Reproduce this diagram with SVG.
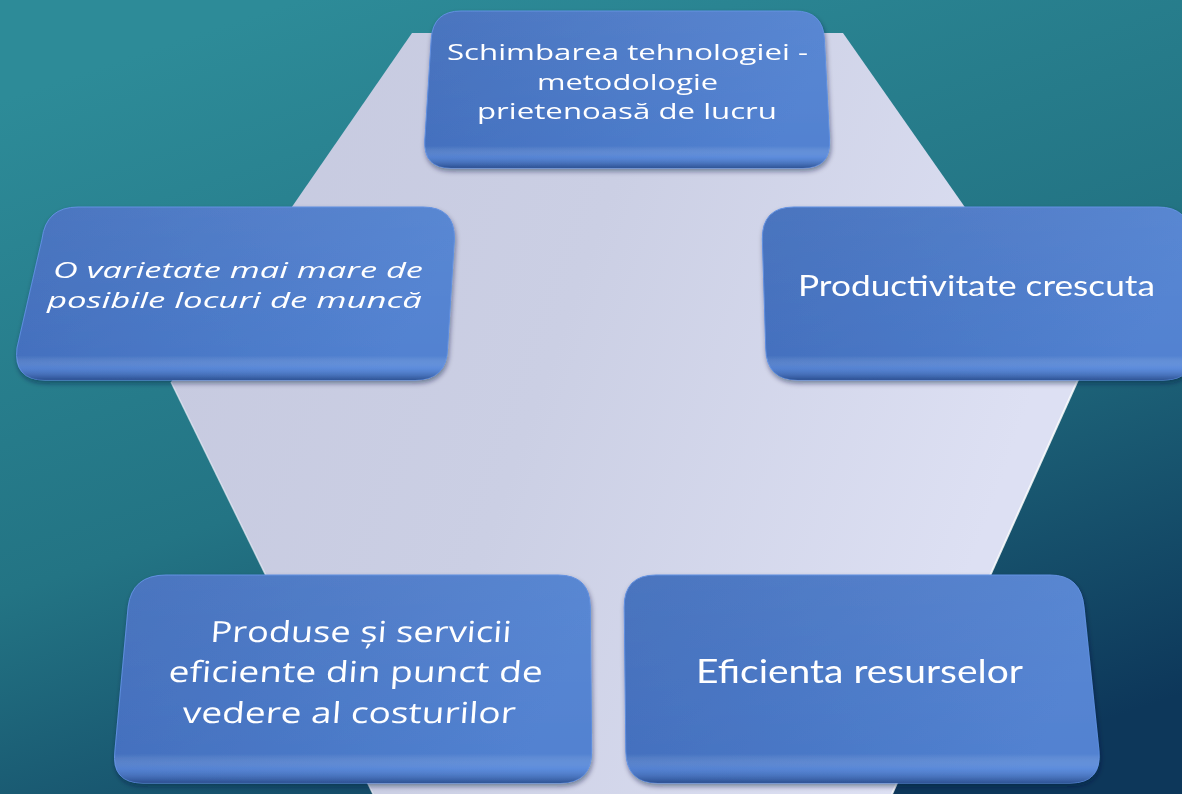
<svg xmlns="http://www.w3.org/2000/svg" width="1182" height="794" viewBox="0 0 1182 794">
<defs>
<linearGradient id="bg" x1="0.25" y1="0" x2="0.75" y2="1">
<stop offset="0" stop-color="#2d8b98"/>
<stop offset="0.5" stop-color="#237484"/>
<stop offset="1" stop-color="#0d375a"/>
</linearGradient>
<linearGradient id="hexg" x1="0" y1="0" x2="1" y2="0.3">
<stop offset="0" stop-color="#c6c9df"/>
<stop offset="0.5" stop-color="#cbcfe4"/>
<stop offset="1" stop-color="#dde0f3"/>
</linearGradient>
<linearGradient id="face" x1="0" y1="0" x2="1" y2="0.2">
<stop offset="0" stop-color="#416dbb"/>
<stop offset="1" stop-color="#5282d1"/>
</linearGradient>
<linearGradient id="bevel" x1="0" y1="0" x2="0" y2="1">
<stop offset="0" stop-color="#ffffff" stop-opacity="0.05"/>
<stop offset="0.86" stop-color="#ffffff" stop-opacity="0"/>
<stop offset="0.93" stop-color="#6f9ef0" stop-opacity="0.35"/>
<stop offset="1" stop-color="#1f3f7a" stop-opacity="0.7"/>
</linearGradient>
<filter id="sh" x="-10%" y="-10%" width="120%" height="130%">
<feDropShadow dx="1" dy="3" stdDeviation="2.5" flood-color="#0a1f3d" flood-opacity="0.45"/>
</filter>
</defs>
<style>
.face{fill:url(#face);stroke:#5d8de0;stroke-width:1}
.bev{fill:url(#bevel)}
.t{fill:#ffffff;font-family:"Open Sans","Noto Sans","Liberation Sans",sans-serif}
.c{fill:#ffffff;font-family:Lato,"Open Sans","Liberation Sans",sans-serif}
</style>
<rect x="0" y="0" width="1182" height="794" fill="url(#bg)"/>
<g id="hexagon">
<polygon points="412,33 843,33 1081,373 892,794 373,794 171,382" fill="url(#hexg)"/>
<polyline points="1081,373 892,794" fill="none" stroke="#ffffff" stroke-width="2" stroke-opacity="0.85"/>
<polyline points="171,382 373,794" fill="none" stroke="#eef0fa" stroke-width="1.5" stroke-opacity="0.7"/>
</g>
<g id="connectors"></g>
<g id="node-top" filter="url(#sh)">
<path class="face" d="M461,11 L795,11 Q823,11 824.4,39 L829.6,140 Q831,168 803,168 L451,168 Q423,168 424.8,140 L431.2,39 Q433,11 461,11 Z"/>
<path class="bev" d="M461,11 L795,11 Q823,11 824.4,39 L829.6,140 Q831,168 803,168 L451,168 Q423,168 424.8,140 L431.2,39 Q433,11 461,11 Z"/>
<text class="t" font-size="22" x="447" y="60" textLength="361" lengthAdjust="spacingAndGlyphs">Schimbarea tehnologiei -</text>
<text class="t" font-size="22" x="537" y="90" textLength="181" lengthAdjust="spacingAndGlyphs">metodologie</text>
<text class="t" font-size="22" x="477" y="119" textLength="300" lengthAdjust="spacingAndGlyphs">prietenoasă de lucru</text>
</g>
<g id="node-left" filter="url(#sh)">
<path class="face" d="M78,207 L423,207 Q455,207 454.4,239 L447.6,348 Q447,380 415,380 L45,380 Q13,380 17,348 L42,239 Q46,207 78,207 Z"/>
<path class="bev" d="M78,207 L423,207 Q455,207 454.4,239 L447.6,348 Q447,380 415,380 L45,380 Q13,380 17,348 L42,239 Q46,207 78,207 Z"/>
<text class="t" font-size="22" font-style="italic" x="53" y="278" textLength="370" lengthAdjust="spacingAndGlyphs">O varietate mai mare de</text>
<text class="t" font-size="22" font-style="italic" x="47" y="308" textLength="375" lengthAdjust="spacingAndGlyphs">posibile locuri de muncă</text>
</g>
<g id="node-right" filter="url(#sh)">
<path class="face" d="M794,207 L1158,207 Q1190,207 1191,239 L1194,348 Q1195,380 1163,380 L798,380 Q766,380 765.7,348 L762.3,239 Q762,207 794,207 Z"/>
<path class="bev" d="M794,207 L1158,207 Q1190,207 1191,239 L1194,348 Q1195,380 1163,380 L798,380 Q766,380 765.7,348 L762.3,239 Q762,207 794,207 Z"/>
<text class="c" font-size="29" x="798" y="296" textLength="357" lengthAdjust="spacingAndGlyphs">Productivitate crescuta</text>
</g>
<g id="node-bottom-left" filter="url(#sh)">
<path class="face" d="M166,575 L558,575 Q590,575 590.3,607 L591.7,751 Q592,783 560,783 L143,783 Q111,783 114.9,751 L128.1,607 Q132,575 166,575 Z"/>
<path class="bev" d="M166,575 L558,575 Q590,575 590.3,607 L591.7,751 Q592,783 560,783 L143,783 Q111,783 114.9,751 L128.1,607 Q132,575 166,575 Z"/>
<g transform="translate(354,682) skewX(-4) translate(-354,-682)">
<text class="t" font-size="29" x="207" y="642" textLength="301" lengthAdjust="spacingAndGlyphs">Produse și servicii</text>
<text class="t" font-size="29" x="168" y="682" textLength="374" lengthAdjust="spacingAndGlyphs">eficiente din punct de</text>
<text class="t" font-size="29" x="185" y="723" textLength="333" lengthAdjust="spacingAndGlyphs">vedere al costurilor</text>
</g>
</g>
<g id="node-bottom-right" filter="url(#sh)">
<path class="face" d="M656,575 L1050,575 Q1081,575 1084,607 L1099,751 Q1102,783 1070,783 L658,783 Q626,783 625.8,751 L624.2,607 Q624,575 656,575 Z"/>
<path class="bev" d="M656,575 L1050,575 Q1081,575 1084,607 L1099,751 Q1102,783 1070,783 L658,783 Q626,783 625.8,751 L624.2,607 Q624,575 656,575 Z"/>
<text class="c" font-size="32" x="696" y="683" textLength="327" lengthAdjust="spacingAndGlyphs">Eficienta resurselor</text>
</g>
</svg>
